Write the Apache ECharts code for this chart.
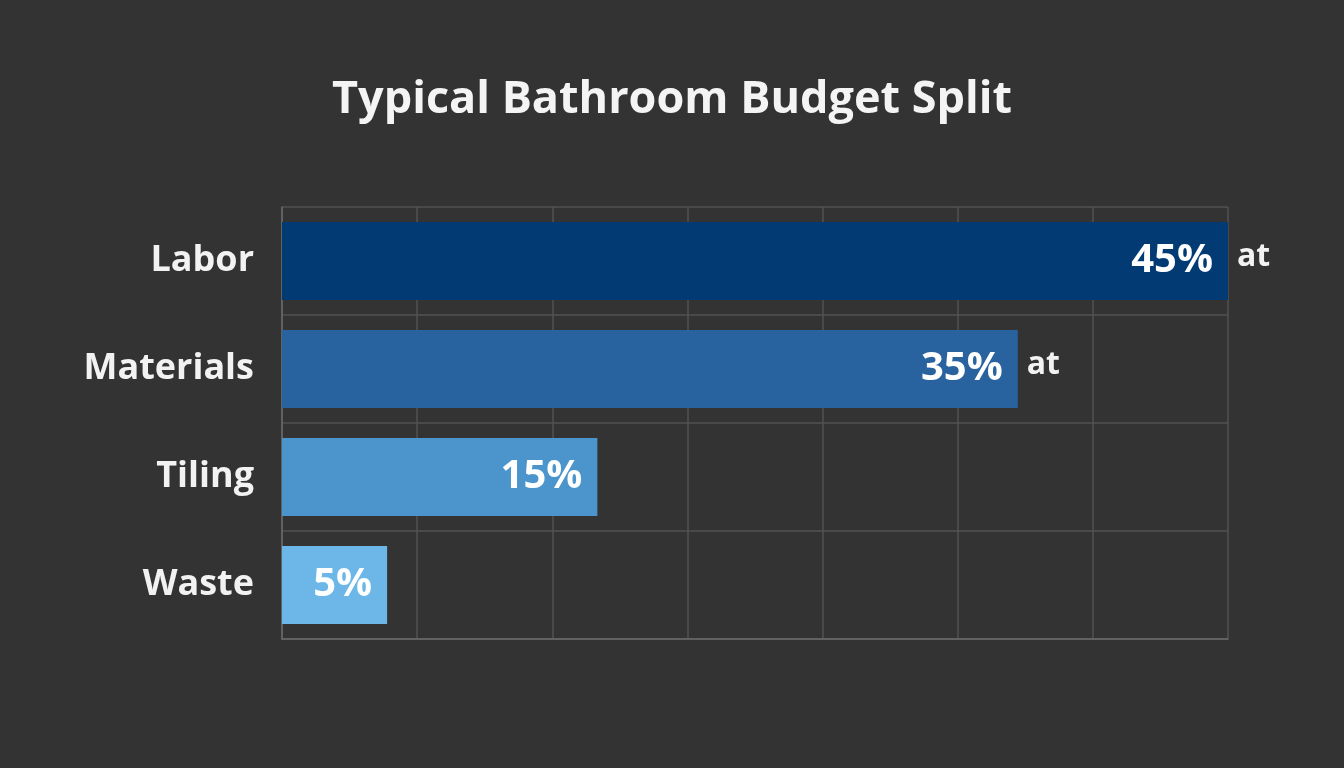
<!DOCTYPE html>
<html>
<head>
<meta charset="utf-8">
<script src="https://cdn.jsdelivr.net/npm/echarts@6/dist/echarts.min.js"></script>
<style>
html,body{margin:0;padding:0;background:#333333;}
#chart{width:1344px;height:768px;}
</style>
</head>
<body>
<div id="chart"></div>
<script>
const categories = ['Labor', 'Materials', 'Tiling', 'Waste'];
const shares = [45, 35, 15, 5];
const valueLabels = ['45%', '35%', '15%', '5%'];
const trailingText = ['at', 'at', '', ''];
const barColors = ['#023a74', '#2863a0', '#4b95cc', '#6cb7e7'];

const chart = echarts.init(document.getElementById('chart'));
const fontFam = '"Open Sans", Lato, sans-serif';
chart.setOption({
  backgroundColor: '#333333',
  animation: false,
  title: {
    text: 'Typical Bathroom Budget Split',
    left: 'center',
    top: 73,
    textStyle: { color: '#f4f4f4', fontSize: 45, fontWeight: 'bold', fontFamily: fontFam }
  },
  grid: { left: 282, right: 116, top: 207, bottom: 129 },
  xAxis: {
    type: 'value',
    min: 0,
    max: 45,
    interval: 45 / 7,
    axisLabel: { show: false },
    axisTick: { show: false },
    axisLine: { show: true, lineStyle: { color: '#6a6a6a', width: 1.5 } },
    splitLine: { show: true, lineStyle: { color: '#525252', width: 1.5 } }
  },
  yAxis: {
    type: 'category',
    inverse: true,
    data: categories,
    axisTick: { show: false },
    axisLine: { show: true, lineStyle: { color: '#6a6a6a', width: 1.5 } },
    splitLine: { show: true, lineStyle: { color: '#525252', width: 1.5 } },
    axisLabel: { color: '#f2f2f2', fontSize: 36, fontWeight: 'bold', fontFamily: fontFam, margin: 28 }
  },
  series: [
    {
      type: 'bar',
      barWidth: 78,
      data: shares.map((v, i) => ({ value: v, itemStyle: { color: barColors[i] } })),
      label: {
        show: true,
        position: 'insideRight',
        distance: 15,
        formatter: p => valueLabels[p.dataIndex],
        color: '#ffffff',
        fontSize: 40,
        fontWeight: 'bold',
        fontFamily: fontFam
      }
    },
    {
      type: 'bar',
      barWidth: 78,
      barGap: '-100%',
      silent: true,
      data: shares,
      itemStyle: { color: 'rgba(0,0,0,0)' },
      label: {
        show: true,
        position: 'right',
        distance: 9,
        formatter: p => trailingText[p.dataIndex],
        color: '#f2f2f2',
        fontSize: 32,
        fontWeight: 'bold',
        fontFamily: fontFam,
        offset: [0, -4]
      }
    }
  ]
});
</script>
</body>
</html>
